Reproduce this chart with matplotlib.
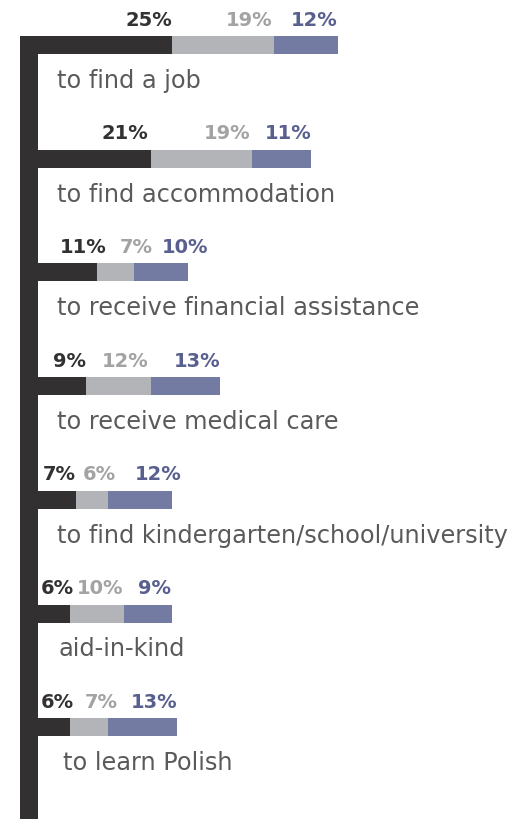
import numpy as np
import matplotlib
matplotlib.use("Agg")
import matplotlib.pyplot as plt
from matplotlib.patches import Rectangle

# data
categories = ["to find a job", "to find accommodation", "to receive financial assistance",
              "to receive medical care", "to find kindergarten/school/university",
              "aid-in-kind", "to learn Polish"]
dark_vals = [25, 21, 11, 9, 7, 6, 6]
gray_vals = [19, 19, 7, 12, 6, 10, 7]
blue_vals = [12, 11, 10, 13, 12, 9, 13]

# label nudges in pixels (the original moves some labels to keep them apart)
dark_nudge = [0, -2, 10, 0, 0, 4, 4]
gray_nudge = [-1, -2, 18, -2, 8, 0, 10]
blue_nudge = [-1, 0, 20, 0, 10, -1, 0]
cat_nudge = [0, 0, 0, 0, 0, 1, 6]

bar_dark = "#323031"
bar_gray = "#b3b4b8"
bar_blue = "#737ba3"
txt_dark = "#333132"
txt_gray = "#a3a3a5"
txt_blue = "#59608f"

W, H = 528, 819
px = 5.36        # pixels per percent
x0 = 38          # pixel where bars start
y0 = 45          # pixel of first bar center
step = 113.7     # pixel spacing between bars

fig = plt.figure(figsize=(W / 100, H / 100), dpi=100)
ax = fig.add_axes([0, 0, 1, 1])
ax.set_xlim(-x0 / px, (W - x0) / px)
ax.set_ylim((H - y0) / step, -y0 / step)
ax.axis("off")

y = np.arange(len(categories))
h = 18 / step
d = np.array(dark_vals)
g = np.array(gray_vals)
b = np.array(blue_vals)

ax.barh(y, d, height=h, color=bar_dark)
ax.barh(y, g, left=d, height=h, color=bar_gray)
ax.barh(y, b, left=d + g, height=h, color=bar_blue)

# thick vertical axis bar on the left
ax.add_patch(Rectangle((-18 / px, -h / 2), 18 / px, (H - y0) / step + h,
                       color=bar_dark, lw=0))

num_font = dict(fontsize=14, fontweight="bold", family="DejaVu Sans",
                ha="right", va="baseline", textcoords="offset points")
for i in range(len(categories)):
    ends = [d[i], d[i] + g[i], d[i] + g[i] + b[i]]
    vals = [dark_vals[i], gray_vals[i], blue_vals[i]]
    nudges = [dark_nudge[i], gray_nudge[i], blue_nudge[i]]
    cols = [txt_dark, txt_gray, txt_blue]
    for e, v, n, c in zip(ends, vals, nudges, cols):
        ax.annotate(f"{v}%", (e, y[i] - h / 2), xytext=(n * 0.72, 7.5),
                    color=c, **num_font)
    ax.text((19 + cat_nudge[i]) / px, y[i] + 43 / step, categories[i], fontsize=17.3,
            family="DejaVu Sans", color="#5a5a5a", ha="left", va="baseline")

fig.savefig("out.png", dpi=100)
